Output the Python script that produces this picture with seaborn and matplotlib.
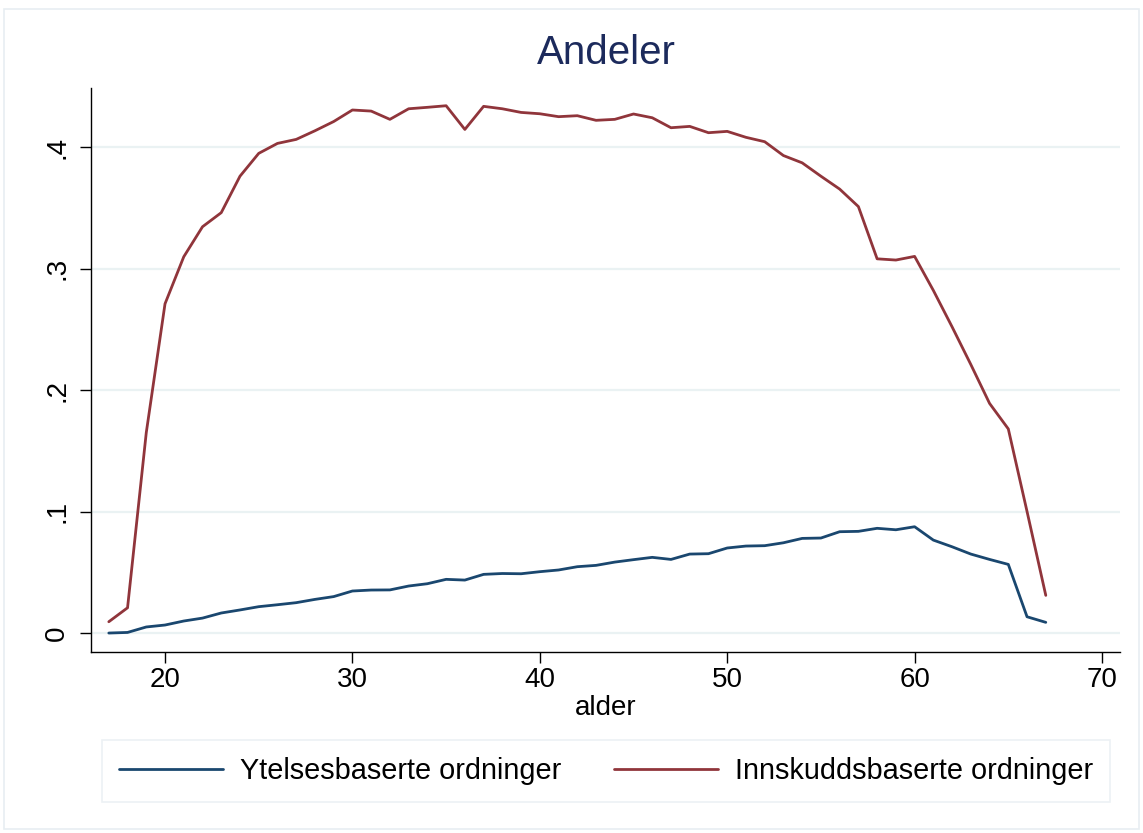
import matplotlib
matplotlib.use("Agg")
import matplotlib.pyplot as plt
import numpy as np
import pandas as pd
import seaborn as sns
from matplotlib.patches import Rectangle

# values
alder = list(range(17, 68))
ytelse = [
    0.000, 0.0005, 0.005, 0.0066, 0.0099, 0.0123, 0.0165, 0.019, 0.0217, 0.0233,
    0.025, 0.0277, 0.030, 0.0346, 0.0354, 0.0355, 0.0387, 0.0406, 0.0442, 0.0436,
    0.0483, 0.049, 0.0488, 0.0505, 0.0519, 0.0546, 0.0557, 0.0584, 0.0604, 0.0623,
    0.0606, 0.065, 0.0653, 0.070, 0.0716, 0.0719, 0.0743, 0.0779, 0.0782, 0.0834,
    0.0837, 0.0862, 0.085, 0.0875, 0.0765, 0.071, 0.065, 0.0606, 0.0565, 0.0134,
    0.0088,
]
innskudd = [
    0.0093, 0.0208, 0.165, 0.271, 0.3097, 0.3344, 0.346, 0.376, 0.3948, 0.403,
    0.4063, 0.4134, 0.421, 0.4305, 0.4296, 0.4228, 0.4315, 0.4327, 0.434, 0.4145,
    0.4335, 0.4315, 0.4285, 0.4274, 0.425, 0.4258, 0.422, 0.4228, 0.4272, 0.4241,
    0.4159, 0.417, 0.4118, 0.4129, 0.408, 0.4044, 0.393, 0.387, 0.376, 0.3654,
    0.351, 0.308, 0.307, 0.310, 0.282, 0.252, 0.221, 0.189, 0.168, 0.100,
    0.031,
]
serier = ["Ytelsesbaserte ordninger", "Innskuddsbaserte ordninger"]
xticks = [20, 30, 40, 50, 60, 70]
yticks = [0, 0.1, 0.2, 0.3, 0.4]
ytick_labels = ["0", ".1", ".2", ".3", ".4"]

df = pd.DataFrame({
    "alder": alder * 2,
    "andel": ytelse + innskudd,
    "serie": [serier[0]] * len(alder) + [serier[1]] * len(alder),
})

sns.set_style("white")
plt.rcParams["font.family"] = ["Liberation Sans", "DejaVu Sans"]
plt.rcParams["text.color"] = "black"
plt.rcParams["xtick.color"] = "black"
plt.rcParams["ytick.color"] = "black"
plt.rcParams["axes.labelcolor"] = "black"

fig = plt.figure(figsize=(11.43, 8.33), dpi=100)
ax = fig.add_axes([91 / 1143, 1 - 652 / 833, (1120 - 91) / 1143, (652 - 88) / 833])

# light outer frame like the Stata graph region
fig.patches.append(Rectangle((4 / 1143, 1 - 829 / 833), 1135 / 1143, 820 / 833,
                             transform=fig.transFigure, fill=False,
                             edgecolor="#e8eef2", linewidth=1.2))

sns.lineplot(data=df, x="alder", y="andel", hue="serie", hue_order=serier,
             palette=["#1a476f", "#90353b"], linewidth=2, ax=ax, legend=False)

ax.set_xlim(16.05, 70.96)
ax.set_ylim(-0.0156, 0.4486)
ax.set_xticks(xticks)
ax.set_xticklabels([str(t) for t in xticks], fontsize=20)
ax.set_yticks(yticks)
ax.set_yticklabels(ytick_labels, fontsize=20, rotation=90, va="center")
ax.yaxis.grid(True, color="#eaf2f3", linewidth=1.6)
ax.set_axisbelow(True)
ax.tick_params(axis="both", direction="out", length=8, width=1, color="black",
               left=True, bottom=True)
ax.tick_params(axis="x", pad=3)
ax.tick_params(axis="y", pad=7)
sns.despine(ax=ax)
for side in ["left", "bottom"]:
    ax.spines[side].set_color("black")
    ax.spines[side].set_linewidth(1)

ax.set_xlabel("alder", fontsize=20, labelpad=1)
ax.set_ylabel("")
fig.text(606 / 1143, 1 - 53 / 833, "Andeler", fontsize=29, color="#1c2a5c",
         ha="center", va="center")

# legend below the plot
handles = [plt.Line2D([], [], color=c, linewidth=2) for c in ["#1a476f", "#90353b"]]
leg = fig.legend(handles, serier, loc="center", ncol=2,
                 bbox_to_anchor=(606 / 1143, 1 - 771 / 833), fontsize=20.8,
                 frameon=True, fancybox=False, handlelength=3.6, columnspacing=1.8,
                 borderpad=0.6, handletextpad=0.6)
leg.get_frame().set_edgecolor("#e8eef2")
leg.get_frame().set_linewidth(1.2)

fig.savefig("out.png", dpi=100)
